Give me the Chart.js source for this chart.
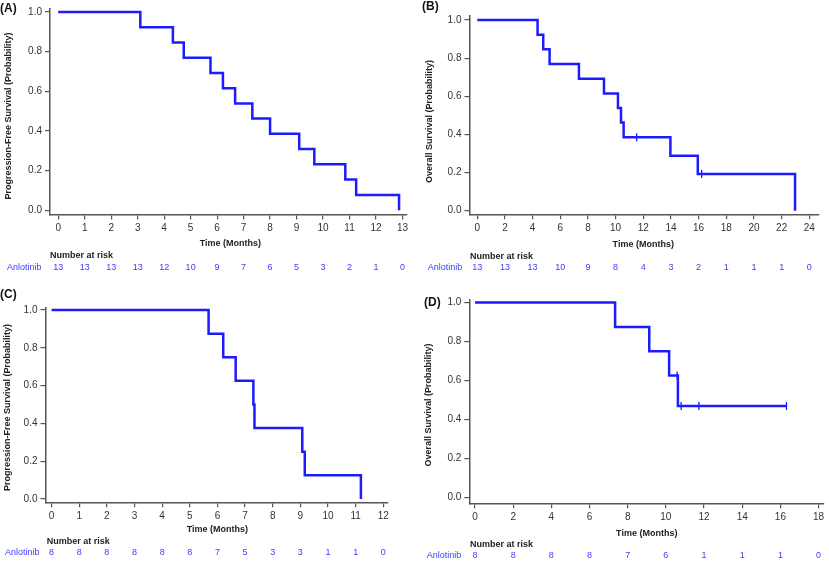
<!DOCTYPE html>
<html>
<head>
<meta charset="utf-8">
<script src="https://cdn.jsdelivr.net/npm/chart.js@4.4.1/dist/chart.umd.min.js"></script>
<style>
  html, body { margin: 0; padding: 0; background: #fff; }
  body { width: 829px; height: 561px; position: relative; overflow: hidden; }
  .panel { position: absolute; }
</style>
</head>
<body>
<div class="panel" style="left:0;top:0;width:415px;height:280px"><canvas id="chartA"></canvas></div>
<div class="panel" style="left:415px;top:0;width:414px;height:280px"><canvas id="chartB"></canvas></div>
<div class="panel" style="left:0;top:280px;width:415px;height:281px"><canvas id="chartC"></canvas></div>
<div class="panel" style="left:415px;top:280px;width:414px;height:281px"><canvas id="chartD"></canvas></div>
<script>
// (A) progression-free survival, all patients
const timesA = [0, 3.1, 4.33, 4.74, 5.75, 6.22, 6.68, 7.33, 8.0, 9.1, 9.67, 10.84, 11.25, 12.87];
const survA = [1, 0.923, 0.846, 0.769, 0.692, 0.615, 0.538, 0.462, 0.385, 0.308, 0.231, 0.154, 0.077, 0];
const riskTimesA = [0, 1, 2, 3, 4, 5, 6, 7, 8, 9, 10, 11, 12, 13];
const riskA = [13, 13, 13, 13, 12, 10, 9, 7, 6, 5, 3, 2, 1, 0];

// (B) overall survival, all patients
const timesB = [0, 4.36, 4.77, 5.23, 7.35, 9.16, 10.17, 10.39, 10.58, 13.96, 15.94, 22.97];
const survB = [1, 0.923, 0.846, 0.769, 0.692, 0.615, 0.538, 0.462, 0.385, 0.288, 0.192, 0];
const censorTimesB = [11.52, 16.22];
const censorSurvB = [0.385, 0.192];
const riskTimesB = [0, 2, 4, 6, 8, 10, 12, 14, 16, 18, 20, 22, 24];
const riskB = [13, 13, 13, 10, 9, 8, 4, 3, 2, 1, 1, 1, 0];

// (C) progression-free survival, subgroup
const timesC = [0, 5.68, 6.21, 6.66, 7.30, 7.34, 9.07, 9.16, 11.19];
const survC = [1, 0.875, 0.75, 0.625, 0.5, 0.375, 0.25, 0.125, 0];
const riskTimesC = [0, 1, 2, 3, 4, 5, 6, 7, 8, 9, 10, 11, 12];
const riskC = [8, 8, 8, 8, 8, 8, 7, 5, 3, 3, 1, 1, 0];

// (D) overall survival, subgroup
const timesD = [0, 7.34, 9.13, 10.17, 10.63, 16.32];
const survD = [1, 0.875, 0.75, 0.625, 0.469, 0.469];
const censorTimesD = [10.59, 10.8, 11.73, 16.32];
const censorSurvD = [0.625, 0.469, 0.469, 0.469];
const riskTimesD = [0, 2, 4, 6, 8, 10, 12, 14, 16, 18];
const riskD = [8, 8, 8, 8, 7, 6, 1, 1, 1, 0];

const yTickVals = [0, 0.2, 0.4, 0.6, 0.8, 1.0];

const FONT = '"Liberation Sans", Arial, sans-serif';
const BLUE = '#1c1cff';
const RISK_BLUE = '#3d3dff';
const AXIS = '#555';

function toPoints(xs, ys) {
    return xs.map((x, i) => ({ x: x, y: ys[i] }));
}

// draws panel letter, axis titles and the number-at-risk table
function kmTextPlugin(p) {
    return {
        id: 'kmText',
        afterDraw(chart) {
            const ctx = chart.ctx;
            const xs = chart.scales.x;
            ctx.save();
            ctx.textBaseline = 'middle';

            ctx.fillStyle = '#111';
            ctx.font = 'bold 12px ' + FONT;
            ctx.textAlign = 'left';
            ctx.fillText(p.label, p.labelX, p.labelY);

            ctx.fillStyle = '#222';
            ctx.font = 'bold 9px ' + FONT;
            ctx.save();
            ctx.translate(p.yTitleX, p.yTitleY);
            ctx.rotate(-Math.PI / 2);
            ctx.textAlign = 'center';
            ctx.fillText(p.yTitle, 0, 0);
            ctx.restore();

            const first = xs.getPixelForValue(p.riskTimes[0]);
            const last = xs.getPixelForValue(p.riskTimes[p.riskTimes.length - 1]);
            ctx.textAlign = 'center';
            ctx.fillText('Time (Months)', (first + last) / 2, p.xTitleY);

            ctx.textAlign = 'left';
            ctx.fillText('Number at risk', p.headerX, p.headerY);

            ctx.fillStyle = RISK_BLUE;
            ctx.font = '9px ' + FONT;
            ctx.fillText('Anlotinib', p.nameX, p.rowY);
            ctx.textAlign = 'center';
            p.riskTimes.forEach((t, i) => {
                ctx.fillText(String(p.risk[i]), xs.getPixelForValue(t), p.rowY);
            });
            ctx.restore();
        }
    };
}

function makeKM(p) {
    const datasets = [{
        data: toPoints(p.times, p.surv),
        borderColor: BLUE,
        borderWidth: 2.5,
        stepped: true,
        pointRadius: 0,
        fill: false
    }];
    if (p.censorTimes) {
        datasets.push({
            data: toPoints(p.censorTimes, p.censorSurv),
            showLine: false,
            pointStyle: 'line',
            rotation: 90,
            pointRadius: 4,
            pointBorderWidth: 1.3,
            borderColor: BLUE,
            pointBorderColor: BLUE
        });
    }
    new Chart(document.getElementById(p.id), {
        type: 'line',
        data: { datasets: datasets },
        options: {
            responsive: true,
            maintainAspectRatio: false,
            animation: false,
            events: [],
            layout: { padding: { top: p.axisTop, right: p.w - p.axisRight, left: 0, bottom: 0 } },
            plugins: { legend: { display: false }, tooltip: { enabled: false } },
            scales: {
                x: {
                    type: 'linear',
                    min: p.xMin,
                    max: p.xMax,
                    afterFit: s => { s.height = p.h - p.axisBottom; },
                    afterBuildTicks: s => { s.ticks = p.riskTimes.map(v => ({ value: v })); },
                    border: { display: true, color: AXIS, width: 1.5 },
                    grid: { drawOnChartArea: false, drawTicks: true, tickLength: 5, color: AXIS, lineWidth: 1.2 },
                    ticks: { padding: 3, color: '#333', font: { family: FONT, size: 10 }, maxRotation: 0, autoSkip: false }
                },
                y: {
                    min: p.yMin,
                    max: p.yMax,
                    afterFit: s => { s.width = p.axisLeft; },
                    afterBuildTicks: s => { s.ticks = yTickVals.map(v => ({ value: v })); },
                    border: { display: true, color: AXIS, width: 1.5 },
                    grid: { drawOnChartArea: false, drawTicks: true, tickLength: 5, color: AXIS, lineWidth: 1.2 },
                    ticks: { padding: 3, color: '#333', font: { family: FONT, size: 10 }, callback: v => v.toFixed(1) }
                }
            }
        },
        plugins: [kmTextPlugin(p)]
    });
}

makeKM({
    id: 'chartA', w: 415, h: 280, times: timesA, surv: survA, riskTimes: riskTimesA, risk: riskA,
    axisLeft: 50, axisTop: 7, axisBottom: 214.5, axisRight: 407,
    xMin: -0.31, xMax: 13.17, yMin: -0.022, yMax: 1.015,
    label: '(A)', labelX: 0, labelY: 9,
    yTitle: 'Progression-Free Survival (Probability)', yTitleX: 8.5, yTitleY: 116,
    xTitleY: 243.5, headerX: 50, headerY: 256, nameX: 7, rowY: 267.5
});

makeKM({
    id: 'chartB', w: 414, h: 280, times: timesB, surv: survB, censorTimes: censorTimesB, censorSurv: censorSurvB,
    riskTimes: riskTimesB, risk: riskB,
    axisLeft: 54.5, axisTop: 16, axisBottom: 214.3, axisRight: 403.3,
    xMin: -0.56, xMax: 24.65, yMin: -0.019, yMax: 1.021,
    label: '(B)', labelX: 7, labelY: 7,
    yTitle: 'Overall Survival (Probability)', yTitleX: 15, yTitleY: 121.5,
    xTitleY: 245, headerX: 55, headerY: 256.5, nameX: 12.7, rowY: 267.5
});

makeKM({
    id: 'chartC', w: 415, h: 281, times: timesC, surv: survC, riskTimes: riskTimesC, risk: riskC,
    axisLeft: 45.5, axisTop: 28, axisBottom: 222.3, axisRight: 387.7,
    xMin: -0.22, xMax: 12.16, yMin: -0.0175, yMax: 1.0106,
    label: '(C)', labelX: 0, labelY: 15,
    yTitle: 'Progression-Free Survival (Probability)', yTitleX: 7.5, yTitleY: 127.5,
    xTitleY: 250, headerX: 46.7, headerY: 261.7, nameX: 5, rowY: 272.7
});

makeKM({
    id: 'chartD', w: 414, h: 281, times: timesD, surv: survD, censorTimes: censorTimesD, censorSurv: censorSurvD,
    riskTimes: riskTimesD, risk: riskD,
    axisLeft: 54.3, axisTop: 19.3, axisBottom: 223.3, axisRight: 410.7,
    xMin: -0.3, xMax: 18.27, yMin: -0.031, yMax: 1.017,
    label: '(D)', labelX: 9, labelY: 22.7,
    yTitle: 'Overall Survival (Probability)', yTitleX: 14, yTitleY: 125,
    xTitleY: 253.3, headerX: 55, headerY: 265, nameX: 11.7, rowY: 276
});
</script>
</body>
</html>
